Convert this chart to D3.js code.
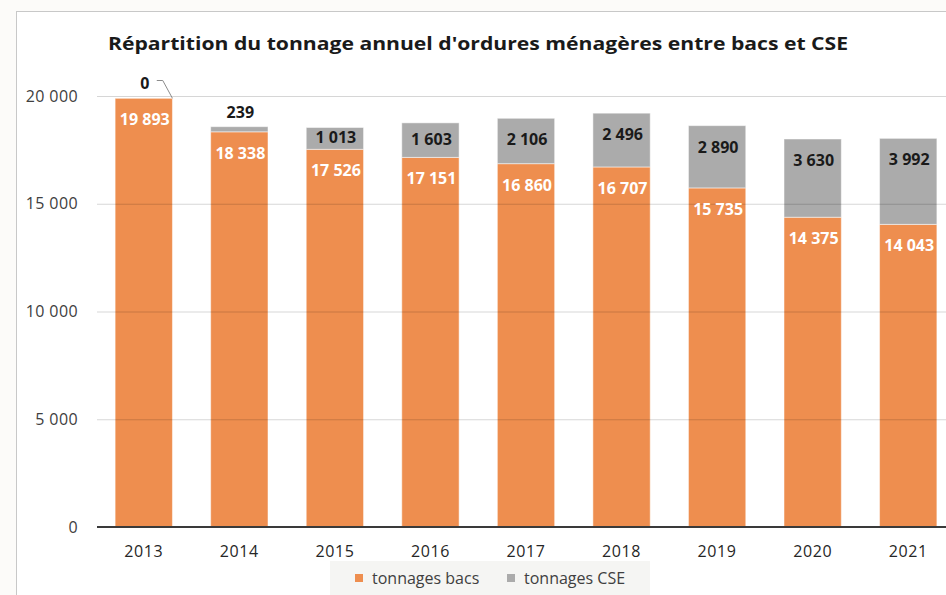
<!DOCTYPE html>
<html>
<head>
<meta charset="utf-8">
<script src="https://cdn.jsdelivr.net/npm/d3@7"></script>
<style>
  body { margin: 0; background: #fcfbf9; }
  svg { display: block; font-family: "Open Sans", "Noto Sans", sans-serif; }
</style>
</head>
<body>
<div id="chart"></div>
<script>
// DATA
const years = ["2013", "2014", "2015", "2016", "2017", "2018", "2019", "2020", "2021"];
const bacs = [19893, 18338, 17526, 17151, 16860, 16707, 15735, 14375, 14043];
const cse = [0, 239, 1013, 1603, 2106, 2496, 2890, 3630, 3992];
const yTicks = [0, 5000, 10000, 15000, 20000];
const seriesNames = ["tonnages bacs", "tonnages CSE"];

const width = 946, height = 595;
const orange = "#ee8e4f", grey = "#ababab";

// FRENCH NUMBER FORMAT, SPACE AS THOUSANDS SEPARATOR
const fmt = d3.formatLocale({decimal: ",", thousands: " ", grouping: [3], currency: ["", " €"]}).format(",d");

const svg = d3.select("#chart").append("svg")
    .attr("width", width)
    .attr("height", height);

// CHART AREA FRAME
svg.append("rect")
    .attr("x", 16.5).attr("y", 11.5)
    .attr("width", 1000).attr("height", 700)
    .attr("fill", "#ffffff")
    .attr("stroke", "#c8c8c8");

const x = d3.scaleBand().domain(years).range([96, 956]).paddingInner(0.4).paddingOuter(0.2);
const y = d3.scaleLinear().domain([0, 20000]).range([527, 96]);

// STACKED BARS
const rows = years.map((yr, i) => ({year: yr, bacs: bacs[i], cse: cse[i]}));
const stack = d3.stack().keys(["bacs", "cse"])(rows);
const colors = [orange, grey];

svg.append("g")
    .selectAll("g")
    .data(stack)
    .join("g")
    .attr("fill", (d, i) => colors[i])
    .selectAll("rect")
    .data(d => d)
    .join("rect")
    .attr("x", d => x(d.data.year))
    .attr("width", x.bandwidth())
    .attr("y", d => y(d[1]))
    .attr("height", d => y(d[0]) - y(d[1]))
    .attr("stroke", "#ffffff")
    .attr("stroke-opacity", 0.5)
    .attr("stroke-width", 1);

// GRIDLINES (SEMI TRANSPARENT, THEY SHOW FAINTLY THROUGH THE BARS)
svg.append("g")
    .selectAll("line")
    .data(yTicks.filter(d => d > 0))
    .join("line")
    .attr("x1", 97).attr("x2", 956)
    .attr("y1", d => y(d) + 0.5).attr("y2", d => y(d) + 0.5)
    .attr("stroke", "#000000").attr("stroke-opacity", 0.16).attr("stroke-width", 1);

// Y AXIS LABELS
const yAxis = d3.axisLeft(y).tickValues(yTicks).tickFormat(fmt).tickSize(0).tickPadding(0);
svg.append("g")
    .attr("transform", "translate(78,0)")
    .call(yAxis)
    .call(g => g.select(".domain").remove())
    .selectAll("text")
    .attr("font-size", 16)
    .attr("letter-spacing", 0.4)
    .attr("fill", "#404040")
    .attr("font-family", "Open Sans, sans-serif");

// X AXIS
const xAxis = d3.axisBottom(x).tickSize(0).tickPadding(0);
svg.append("g")
    .attr("transform", "translate(0,527)")
    .call(xAxis)
    .call(g => g.select(".domain").remove())
    .selectAll("text")
    .attr("y", 30)
    .attr("dy", null)
    .attr("font-size", 16)
    .attr("letter-spacing", 0.6)
    .attr("fill", "#262626")
    .attr("font-family", "Open Sans, sans-serif");

svg.append("line")
    .attr("x1", 97).attr("x2", 956)
    .attr("y1", 527).attr("y2", 527)
    .attr("stroke", "#3a3a3a").attr("stroke-width", 2);

// ORANGE LABELS (INSIDE END)
svg.append("g")
    .selectAll("text")
    .data(rows)
    .join("text")
    .attr("x", d => x(d.year) + x.bandwidth() / 2 + 1)
    .attr("y", d => y(d.bacs) + 27)
    .attr("text-anchor", "middle")
    .attr("font-size", 16)
    .attr("font-weight", "bold")
    .attr("fill", "#ffffff")
    .text(d => fmt(d.bacs));

// GREY LABELS
svg.append("g")
    .selectAll("text")
    .data(rows)
    .join("text")
    .attr("x", (d, i) => x(d.year) + x.bandwidth() / 2 + 1)
    .attr("y", (d, i) => {
        const top = y(d.bacs + d.cse), bottom = y(d.bacs);
        if (bottom - top < 10) return top - 9;
        return Math.min(top + 27, (top + bottom) / 2 + 5);
    })
    .attr("text-anchor", "middle")
    .attr("font-size", 16)
    .attr("font-weight", "bold")
    .attr("fill", "#1a1a1a")
    .text(d => fmt(d.cse));

// LEADER LINE FOR THE 0 LABEL
const x0 = x(years[0]) + x.bandwidth() / 2;
svg.append("path")
    .attr("d", `M${x0 + 13},80.5 H${x0 + 19} L${x(years[0]) + x.bandwidth()},${y(bacs[0])}`)
    .attr("fill", "none")
    .attr("stroke", "#8c8c8c")
    .attr("stroke-width", 1);

// TITLE
svg.append("text")
    .attr("x", 108).attr("y", 50)
    .attr("textLength", 740)
    .attr("lengthAdjust", "spacingAndGlyphs")
    .attr("font-size", 18)
    .attr("font-weight", "bold")
    .attr("fill", "#1a1a1a")
    .text("Répartition du tonnage annuel d'ordures ménagères entre bacs et CSE");

// LEGEND
const legend = svg.append("g").attr("transform", "translate(330,561)");
legend.append("rect")
    .attr("width", 320).attr("height", 34)
    .attr("fill", "#f5f5f3");
const legendX = [25, 177];
const items = legend.selectAll("g")
    .data(seriesNames)
    .join("g")
    .attr("transform", (d, i) => `translate(${legendX[i]},0)`);
items.append("rect")
    .attr("y", 13).attr("width", 8).attr("height", 8)
    .attr("fill", (d, i) => colors[i]);
items.append("text")
    .attr("x", 17).attr("y", 23)
    .attr("font-size", 16)
    .attr("fill", "#404040")
    .text(d => d);
</script>
</body>
</html>
